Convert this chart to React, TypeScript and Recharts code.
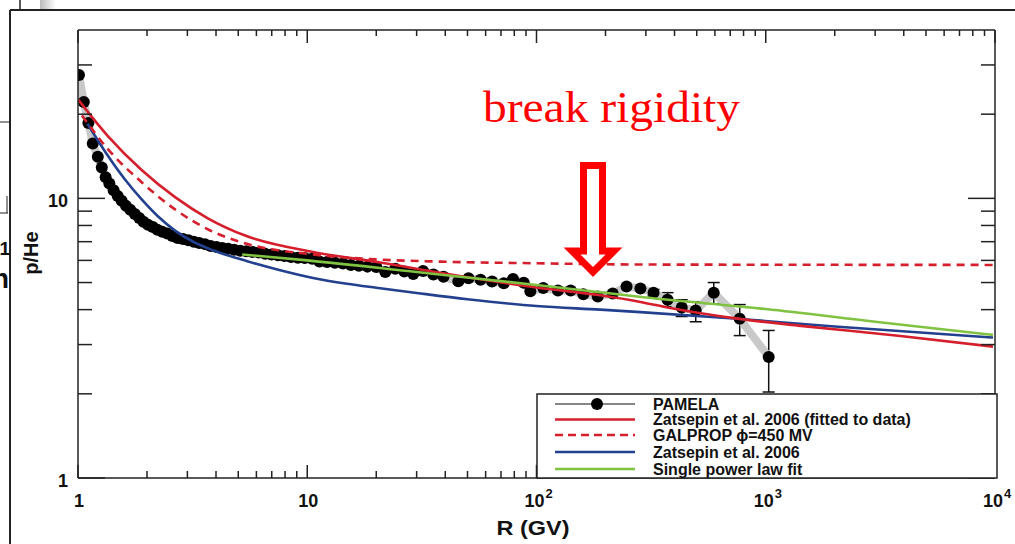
import React from "react"
import { ErrorBar, Line, LineChart, XAxis, YAxis } from "recharts"

const W = 1015
const H = 544
const INK = "#222"
const SANS = "'Liberation Sans', Arial, Helvetica, sans-serif"
const MARGIN = { top: 28, right: 18, bottom: 6, left: 8 }

// PAMELA p/He points (rigidity in GV, ratio)
const pamelaR = [
  1.01, 1.06, 1.11, 1.16, 1.22, 1.27, 1.32, 1.37, 1.43, 1.49,
  1.55, 1.62, 1.69, 1.77, 1.85, 1.93, 2.02, 2.12, 2.22, 2.33,
  2.45, 2.58, 2.72, 2.87, 3.03, 3.2, 3.38, 3.58, 3.79, 4.02,
  4.26, 4.52, 4.8, 5.1, 5.42, 5.77, 6.15, 6.55, 6.98, 7.45,
  7.95, 8.5, 9.1, 9.75, 10.5, 11.3, 12.2, 13.2, 14.3, 15.5,
  16.8, 18.3, 20.0, 21.9, 24.2, 26.5, 29, 32, 35.5, 39.3,
  45.6, 50.5, 57, 64, 72, 79, 88, 94, 107, 124,
  141, 160, 185, 215, 247, 284, 324, 373, 430, 495,
  593, 770, 1030,
]
const pamelaRatio = [
  27.6, 22.1, 18.6, 15.7, 14.1, 12.9, 11.9, 11.3, 10.7, 10.2,
  9.8, 9.4, 9.1, 8.8, 8.5, 8.25, 8.05, 7.9, 7.72, 7.6,
  7.48, 7.33, 7.22, 7.15, 7.08, 7.0, 6.93, 6.86, 6.76, 6.7,
  6.65, 6.6, 6.55, 6.5, 6.47, 6.43, 6.4, 6.34, 6.3, 6.26,
  6.22, 6.17, 6.13, 6.12, 6.08, 5.95, 5.92, 5.88, 5.85, 5.78,
  5.74, 5.7, 5.68, 5.45, 5.6, 5.48, 5.36, 5.5, 5.34, 5.24,
  5.05, 5.18, 5.12, 5.04, 4.97, 5.15, 4.99, 4.65, 4.78, 4.68,
  4.68, 4.54, 4.46, 4.57, 4.84, 4.76, 4.6, 4.34, 4.07, 3.97,
  4.6, 3.71, 2.71,
]
// error bars on the high-rigidity points
const errR = [324, 373, 430, 495, 593, 770, 1030]
const errLow = [0.12, 0.24, 0.29, 0.35, 0.4, 0.48, 0.68]
const errHigh = [0.12, 0.26, 0.27, 0.3, 0.4, 0.46, 0.66]

// Zatsepin et al. 2006 (fitted to data)
const zatsFitR = [1.0, 1.35, 1.9, 2.65, 3.7, 5.36, 10.6, 20.8, 30, 50, 100, 190, 284, 373, 520, 725, 1420, 3870, 9800]
const zatsFitV = [22.6, 16.7, 12.6, 10.1, 8.47, 7.36, 6.43, 5.9, 5.6, 5.22, 4.8, 4.5, 4.26, 4.07, 3.88, 3.73, 3.5, 3.22, 2.95]

// GALPROP phi=450 MV
const galpropR = [1.04, 1.35, 1.9, 2.65, 3.7, 5.2, 10.6, 20.8, 38, 100, 280, 1000, 10000]
const galpropV = [19.8, 15.0, 11.4, 9.13, 7.74, 6.95, 6.3, 6.04, 5.94, 5.86, 5.8, 5.79, 5.78]

// Zatsepin et al. 2006
const zatsR = [1.1, 1.35, 1.6, 1.9, 2.23, 2.65, 3.2, 3.88, 5.47, 7.62, 10.6, 14.9, 20, 30, 50, 100, 190, 284, 725, 2000, 9800]
const zatsV = [18.5, 14.2, 11.7, 9.89, 8.63, 7.67, 6.98, 6.52, 5.96, 5.53, 5.19, 4.95, 4.79, 4.59, 4.36, 4.12, 4.0, 3.92, 3.72, 3.48, 3.18]

// Single power law fit
const powR = [5.2, 10, 30, 100, 300, 1000, 3000, 9800]
const powV = [6.3, 6.0, 5.45, 4.9, 4.42, 4.02, 3.62, 3.25]

const xMajor = [1, 10, 100, 1000, 10000]
const xMinor = [2, 3, 4, 5, 6, 7, 8, 9, 20, 30, 40, 50, 60, 70, 80, 90, 200, 300, 400, 500, 600, 700, 800, 900, 2000, 3000, 4000, 5000, 6000, 7000, 8000, 9000]
const yMajor = [1, 10]
const yMinor = [2, 3, 4, 5, 6, 7, 8, 9, 20, 30]

const legendNames = [
  "PAMELA",
  "Zatsepin et al. 2006 (fitted to data)",
  "GALPROP \u03D5=450 MV",
  "Zatsepin et al. 2006",
  "Single power law fit",
]

const RED = "#d51f2d"
const BLUE = "#22408e"
const GREEN = "#80c241"

const pamela = pamelaR.map((r, i) => {
  const k = errR.indexOf(r)
  return { r, v: pamelaRatio[i], err: k >= 0 ? [errLow[k], errHigh[k]] : undefined }
})
const toPts = (rs: number[], vs: number[]) => rs.map((r, i) => ({ r, v: vs[i] }))

const xTicks = [...xMajor, ...xMinor].sort((a, b) => a - b)
const yTicks = [...yMajor, ...yMinor].sort((a, b) => a - b)

function BottomTick({ x, y, payload }: any) {
  const v = payload.value
  const major = xMajor.includes(v)
  const exp = Math.round(Math.log10(v))
  return (
    <g>
      <line x1={x} y1={y} x2={x} y2={y - (major ? 13 : 7)} stroke={INK} strokeWidth={1.5} />
      {major && exp < 2 && (
        <text x={x + 1} y={y + 29} textAnchor="middle" fontFamily={SANS} fontWeight="bold" fontSize={18} fill="#111">
          {v}
        </text>
      )}
      {major && exp >= 2 && (
        <g fontFamily={SANS} fontWeight="bold" fill="#111">
          <text x={x - 2} y={y + 29} textAnchor="middle" fontSize={18}>10</text>
          <text x={x + 9} y={y + 20} fontSize={13}>{exp}</text>
        </g>
      )}
    </g>
  )
}

function TopTick({ x, y, payload }: any) {
  const major = xMajor.includes(payload.value)
  return <line x1={x} y1={y} x2={x} y2={y + (major ? 13 : 6)} stroke={INK} strokeWidth={1.5} />
}

function LeftTick({ x, y, payload }: any) {
  const v = payload.value
  const major = yMajor.includes(v)
  return (
    <g>
      <line x1={x} y1={y} x2={x + (major ? 27 : 14)} y2={y} stroke={INK} strokeWidth={1.5} />
      {major && (
        <text x={x - 10} y={y + 8.5} textAnchor="end" fontFamily={SANS} fontWeight="bold" fontSize={18} fill="#111">
          {v}
        </text>
      )}
    </g>
  )
}

function RightTick({ x, y, payload }: any) {
  const major = yMajor.includes(payload.value)
  return <line x1={x} y1={y} x2={x - (major ? 27 : 14)} y2={y} stroke={INK} strokeWidth={1.5} />
}

// same axes in both layers so the scales line up; only the top layer draws them
function axes(decor: boolean) {
  const line = decor ? { stroke: INK, strokeWidth: 1.5 } : false
  return [
    <XAxis key="b" xAxisId="b" dataKey="r" type="number" scale="log" domain={[1, 10000]} allowDataOverflow
      ticks={xTicks} interval={0} height={60} tickSize={0} tickMargin={0} tickLine={false}
      axisLine={line} tick={decor ? <BottomTick /> : false} />,
    <XAxis key="t" xAxisId="t" orientation="top" dataKey="r" type="number" scale="log" domain={[1, 10000]} allowDataOverflow
      ticks={xTicks} interval={0} height={2} tickSize={0} tickMargin={0} tickLine={false}
      axisLine={line} tick={decor ? <TopTick /> : false} />,
    <YAxis key="l" yAxisId="l" type="number" scale="log" domain={[1, 40]} allowDataOverflow
      ticks={yTicks} interval={0} width={70} tickSize={0} tickMargin={0} tickLine={false}
      axisLine={line} tick={decor ? <LeftTick /> : false} />,
    <YAxis key="r" yAxisId="r" orientation="right" type="number" scale="log" domain={[1, 40]} allowDataOverflow
      ticks={yTicks} interval={0} width={2} tickSize={0} tickMargin={0} tickLine={false}
      axisLine={line} tick={decor ? <RightTick /> : false} />,
  ]
}

function LegendBox() {
  const rowY = [10, 25.5, 41, 58, 75]
  const colors = ["#111", RED, RED, BLUE, GREEN]
  return (
    <svg width={462} height={86} style={{ position: "absolute", left: 536, top: 393 }}>
      <rect x={1} y={1} width={460} height={84} fill="#fff" stroke={INK} strokeWidth={1.5} />
      {legendNames.map((name, i) => (
        <g key={name}>
          <line
            x1={19}
            x2={99}
            y1={rowY[i] + 1}
            y2={rowY[i] + 1}
            stroke={colors[i]}
            strokeWidth={i === 0 ? 1.2 : 2.6}
            strokeDasharray={i === 2 ? "8 5" : undefined}
          />
          {i === 0 && <circle cx={61} cy={rowY[i] + 1} r={6} fill="#000" />}
          <text x={117} y={rowY[i] + 6.5} fontFamily={SANS} fontWeight="bold" fontSize={16} fill="#111">
            {name}
          </text>
        </g>
      ))}
    </svg>
  )
}

// bits of the slide behind the figure
function Backdrop() {
  return (
    <svg width={W} height={H} style={{ position: "absolute", left: 0, top: 0 }}>
      <defs>
        <linearGradient id="sh" x1="0" x2="1" y1="0" y2="0">
          <stop offset="0" stopColor="#bbb" />
          <stop offset="1" stopColor="#fff" />
        </linearGradient>
      </defs>
      <rect x={40} y={0} width={16} height={10} fill="url(#sh)" />
      <line x1={20} y1={0} x2={20} y2={10} stroke={INK} strokeWidth={1.5} />
      <line x1={10} y1={10} x2={W} y2={10} stroke={INK} strokeWidth={2} />
      <line x1={10} y1={10} x2={10} y2={H} stroke={INK} strokeWidth={2} />
      <line x1={0} y1={122} x2={10} y2={122} stroke={INK} strokeWidth={1} />
      <line x1={0} y1={213} x2={8} y2={213} stroke={INK} strokeWidth={1} />
      <line x1={7} y1={196} x2={7} y2={213} stroke={INK} strokeWidth={1} />
      <text x={10} y={255} textAnchor="end" fontFamily={SANS} fontWeight="bold" fontSize={19} fill="#111">1</text>
      <text x={9} y={288} textAnchor="end" fontFamily={SANS} fontWeight="bold" fontSize={27} fill="#111">n</text>
    </svg>
  )
}

function Annotation() {
  return (
    <svg width={W} height={H} style={{ position: "absolute", left: 0, top: 0, pointerEvents: "none" }}>
      <text x={31} y={253} transform="rotate(-90 31 253)" textAnchor="middle" dominantBaseline="central"
        fontFamily={SANS} fontWeight="bold" fontSize={20} fill="#111">
        p/He
      </text>
      <text x={533} y={535} textAnchor="middle" fontFamily={SANS} fontWeight="bold" fontSize={20} fill="#111"
        textLength={73} lengthAdjust="spacingAndGlyphs">
        R (GV)
      </text>
      <text
        x={483}
        y={122}
        fontFamily="'Liberation Serif', 'Times New Roman', serif"
        fontSize={45}
        fill="#ff0000"
        textLength={257}
        lengthAdjust="spacingAndGlyphs"
      >
        break rigidity
      </text>
      <polygon
        points="583.5,165.5 602.5,165.5 602.5,251 614,251 593,272 572,251 583.5,251"
        fill="#fff"
        stroke="#ff0000"
        strokeWidth={7}
        strokeLinejoin="miter"
      />
    </svg>
  )
}

export default function App() {
  return (
    <div style={{ position: "absolute", left: 0, top: 0, width: W, height: H, background: "#fff" }}>
      <Backdrop />
      {/* bottom layer: PAMELA points */}
      <div style={{ position: "absolute", left: 0, top: 0 }}>
        <LineChart width={W} height={H} margin={MARGIN}>
          {axes(false)}
          <Line
            xAxisId="b"
            yAxisId="l"
            data={pamela}
            dataKey="v"
            type="linear"
            stroke="#c9c9c9"
            strokeWidth={8}
            strokeLinejoin="round"
            dot={{ r: 6, fill: "#000", stroke: "#000", strokeWidth: 0 }}
            isAnimationActive={false}
          >
            <ErrorBar dataKey="err" direction="y" width={6} stroke="#111" strokeWidth={1.5} />
          </Line>
        </LineChart>
      </div>
      {/* top layer: model curves and axes */}
      <div style={{ position: "absolute", left: 0, top: 0 }}>
        <LineChart width={W} height={H} margin={MARGIN}>
          {axes(true)}
          <Line xAxisId="b" yAxisId="l" data={toPts(zatsR, zatsV)} dataKey="v" type="monotone" stroke={BLUE} strokeWidth={2.6} dot={false} isAnimationActive={false} />
          <Line xAxisId="b" yAxisId="l" data={toPts(zatsFitR, zatsFitV)} dataKey="v" type="monotone" stroke={RED} strokeWidth={2.6} dot={false} isAnimationActive={false} />
          <Line xAxisId="b" yAxisId="l" data={toPts(galpropR, galpropV)} dataKey="v" type="monotone" stroke={RED} strokeWidth={2.6} strokeDasharray="8 6" dot={false} isAnimationActive={false} />
          <Line xAxisId="b" yAxisId="l" data={toPts(powR, powV)} dataKey="v" type="monotone" stroke={GREEN} strokeWidth={2.6} dot={false} isAnimationActive={false} />
        </LineChart>
      </div>
      <LegendBox />
      <Annotation />
    </div>
  )
}
